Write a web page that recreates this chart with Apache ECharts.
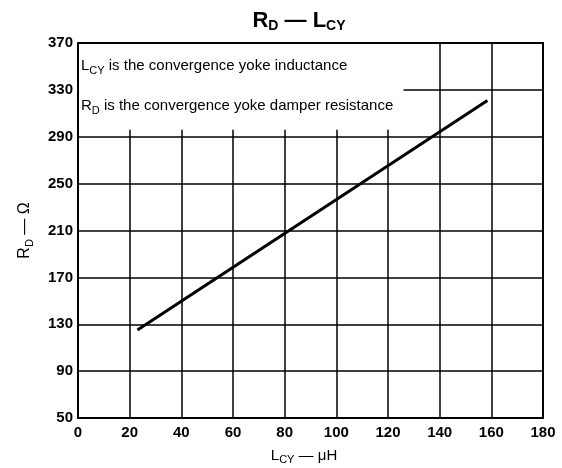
<!DOCTYPE html>
<html><head><meta charset="utf-8">
<script src="https://cdn.jsdelivr.net/npm/echarts@6/dist/echarts.min.js"></script>
<style>html,body{margin:0;padding:0;background:#fff}#c{width:562px;height:468px}</style>
</head><body><div id="c"></div>
<script>
const xTicks = [0, 20, 40, 60, 80, 100, 120, 140, 160, 180];
const yTicks = [50, 90, 130, 170, 210, 250, 290, 330, 370];
const lcy = [23, 158.5];
const rd = [125, 321];
const noteBox = [[0, 296], [126, 370]];

const F = '"Liberation Sans", Arial, sans-serif';
const chart = echarts.init(document.getElementById('c'), null, {renderer: 'canvas'});
const lineOnly = (pos) => ({
  type: 'value', position: pos, min: pos === 'top' || pos === 'bottom' ? 0 : 50,
  max: pos === 'top' || pos === 'bottom' ? 180 : 370, z: 5,
  axisLine: {show: true, onZero: false, lineStyle: {color: '#000', width: 2}},
  axisTick: {show: false}, axisLabel: {show: false}, splitLine: {show: false}
});
const subRich = (fs, pad) => ({s: {fontFamily: F, fontSize: fs, color: '#000', verticalAlign: 'top', lineHeight: fs, padding: [pad, 0, 0, 0]}});
chart.setOption({
  backgroundColor: '#fff',
  animation: false,
  title: [
    {text: 'R{s|D} — L{s|CY}', left: 299, top: 9, textAlign: 'center', padding: 0,
     textStyle: {fontFamily: F, fontSize: 22, fontWeight: 'bold', color: '#000', lineHeight: 24,
       rich: {s: {fontFamily: F, fontSize: 14, fontWeight: 'bold', color: '#000', verticalAlign: 'top', lineHeight: 14, padding: [10, 0, 0, 0]}}}},
    {text: 'L{s|CY} is the convergence yoke inductance', left: 81, top: 57, padding: 0,
     textStyle: {fontFamily: F, fontSize: 15, fontWeight: 'normal', color: '#000', lineHeight: 18,
       rich: subRich(11, 8)}},
    {text: 'R{s|D} is the convergence yoke damper resistance', left: 81, top: 97, padding: 0,
     textStyle: {fontFamily: F, fontSize: 15, fontWeight: 'normal', color: '#000', lineHeight: 18,
       rich: subRich(11, 8)}},
    {text: 'L{s|CY} — μH', left: 304, top: 447, textAlign: 'center', padding: 0,
     textStyle: {fontFamily: F, fontSize: 15, fontWeight: 'normal', color: '#000', lineHeight: 18,
       rich: subRich(11, 7)}}
  ],
  grid: {left: 78, right: 19, top: 43, bottom: 50, show: false},
  xAxis: [
    {type: 'value', min: xTicks[0], max: xTicks[xTicks.length - 1], interval: 20, position: 'bottom',
     axisLine: {show: false}, axisTick: {show: false},
     axisLabel: {show: true, margin: 7, color: '#000', fontFamily: F, fontSize: 15, fontWeight: 'bold',
       formatter: v => String(v)},
     splitLine: {show: true, lineStyle: {color: '#000', width: 1.5}}},
    lineOnly('top'), lineOnly('bottom')
  ],
  yAxis: [
    {type: 'value', min: yTicks[0], max: yTicks[yTicks.length - 1], interval: 40, position: 'left',
     name: 'R{s|D} — Ω', nameLocation: 'middle', nameGap: 44, nameRotate: 90,
     nameTextStyle: {fontFamily: F, fontSize: 16, color: '#000', lineHeight: 18,
       rich: subRich(11, 8)},
     axisLine: {show: false}, axisTick: {show: false},
     axisLabel: {show: true, margin: 5, color: '#000', fontFamily: F, fontSize: 15, fontWeight: 'bold'},
     splitLine: {show: true, lineStyle: {color: '#000', width: 1.5}}},
    lineOnly('right'), lineOnly('left')
  ],
  series: [{
    type: 'line', xAxisIndex: 0, yAxisIndex: 0, symbol: 'none', z: 3,
    data: lcy.map((x, i) => [x, rd[i]]),
    lineStyle: {color: '#000', width: 3},
    markArea: {silent: true, itemStyle: {color: '#fff', opacity: 1},
      data: [[{xAxis: noteBox[0][0], yAxis: noteBox[0][1]}, {xAxis: noteBox[1][0], yAxis: noteBox[1][1]}]]}
  }]
});
</script></body></html>
